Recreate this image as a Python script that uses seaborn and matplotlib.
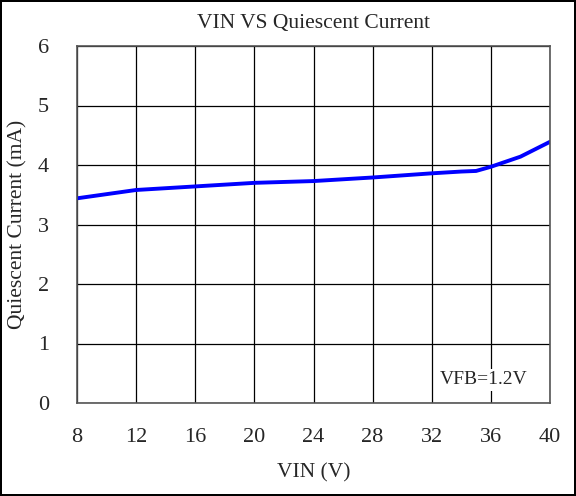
import numpy as np
import matplotlib
matplotlib.use('Agg')
import matplotlib.pyplot as plt
import seaborn as sns

vin = [8, 12, 16, 20, 24, 28, 32, 34, 35, 36, 38, 40]
iq = [3.44, 3.58, 3.64, 3.70, 3.73, 3.79, 3.86, 3.89, 3.90, 3.97, 4.14, 4.39]
xticks = [8, 12, 16, 20, 24, 28, 32, 36, 40]
yticks = [0, 1, 2, 3, 4, 5, 6]

sns.set_style('white')
plt.rcParams['font.family'] = ['Liberation Serif', 'DejaVu Serif']

fig = plt.figure(figsize=(5.76, 4.96), dpi=100)
fig.patch.set_edgecolor('black')
fig.patch.set_linewidth(1.5)
ax = fig.add_axes([77 / 576, 93 / 496, 473 / 576, 357 / 496])

sns.lineplot(x=vin, y=iq, ax=ax, color='#0000ff', linewidth=2.8)

ax.set_xlim(8, 40)
ax.set_ylim(0, 6)
ax.set_xticks(xticks)
ax.set_yticks(yticks)
ax.grid(True, color='black', linewidth=0.9)
ax.set_axisbelow(True)
for s in ax.spines.values():
    s.set_color('#555555')
    s.set_linewidth(1.2)
ax.tick_params(length=0, labelsize=16, pad=18)
ax.tick_params(axis='y', pad=20)

ax.set_title('VIN VS Quiescent Current', fontsize=15.5, pad=13)
ax.set_xlabel('VIN (V)', fontsize=15.5, labelpad=12)
ax.set_ylabel('Quiescent Current (mA)', fontsize=15.5, labelpad=8)

ax.text(35.5, 0.39, 'VFB=1.2V', fontsize=14, ha='center', va='center',
        bbox=dict(facecolor='white', edgecolor='none', pad=2))

fig.savefig('out.png', dpi=100)
